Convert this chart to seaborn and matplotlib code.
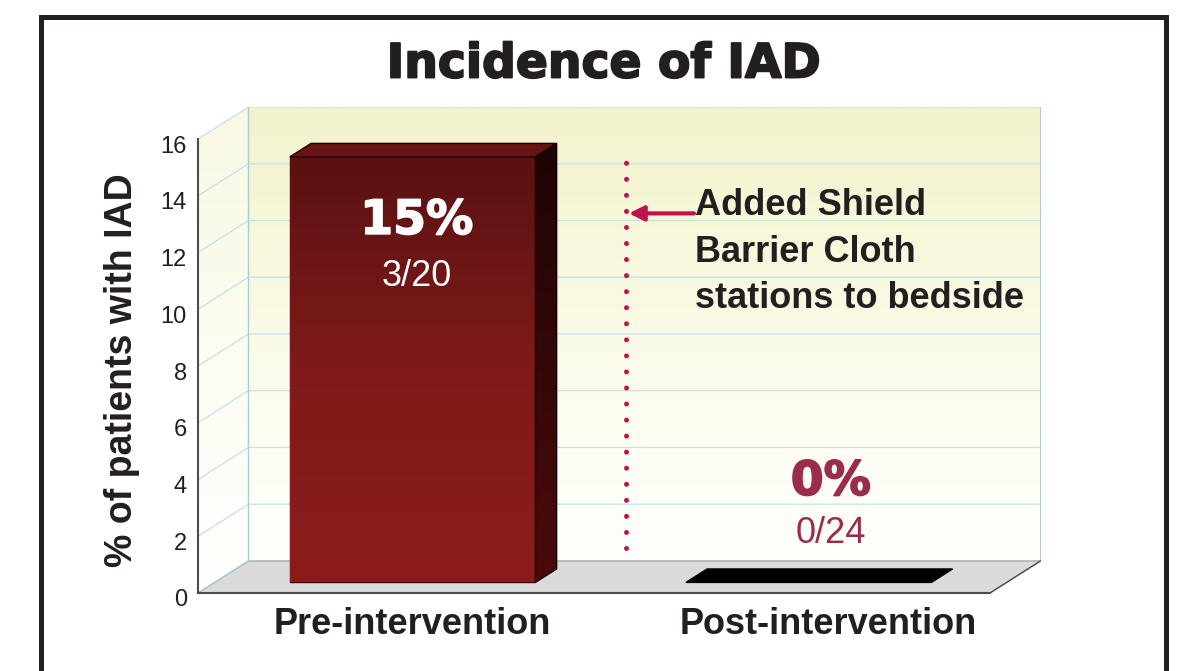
import numpy as np
import matplotlib
matplotlib.use('Agg')
import matplotlib.pyplot as plt
import matplotlib.transforms as mtransforms
import matplotlib.patheffects as pe
from matplotlib.patches import Polygon, Rectangle
from matplotlib.colors import LinearSegmentedColormap
import seaborn as sns

# -------------------------------------------------------
# Data
# -------------------------------------------------------
groups     = ['Pre-intervention', 'Post-intervention']
pct        = [15, 0]
pct_labels = ['15%', '0%']
counts     = ['3/20', '0/24']
yticks     = list(range(0, 17, 2))
note_lines = ['Added Shield', 'Barrier Cloth', 'stations to bedside']
title      = 'Incidence of IAD'
ylabel     = '% of patients with IAD'

sns.set_style('white')
plt.rcParams['font.family'] = ['Liberation Sans', 'DejaVu Sans']

INK   = '#231f20'
BERRY = '#c0124f'
WINE  = '#9b2c4b'

DX, DY = 0.1275, 1.13   # depth of the 3d box, in data units
D0, D1 = 0.33, 0.75     # bars sit between these depth fractions
YMAX   = 16

fig = plt.figure(figsize=(11.81, 6.71), dpi=100)
ax = fig.add_axes([198 / 1181, 78 / 671, 842.5 / 1181, 486 / 671])

# -------------------------------------------------------
# Bars (front faces) via seaborn
# -------------------------------------------------------
sns.barplot(x=groups, y=pct, width=0.62, color='#8a1a1a', saturation=1,
            edgecolor='#2a0505', linewidth=1, ax=ax, zorder=4)
bars = list(ax.patches)

ax.set_xlim(-0.5, 1.5 + DX)
ax.set_ylim(0, YMAX + DY)

grad = np.linspace(0, 1, 256).reshape(-1, 1)

# -------------------------------------------------------
# 3d box: back wall, side wall, floor
# -------------------------------------------------------
wall_cmap = LinearSegmentedColormap.from_list(
    'wall', ['#fffffc', '#fdfdf0', '#f8f8de', '#f3f3cd'])
ax.imshow(grad, cmap=wall_cmap, origin='lower', aspect='auto', zorder=0,
          extent=[-0.5 + DX, 1.5 + DX, DY, YMAX + DY])

side = Polygon([(-0.5, 0), (-0.5, YMAX), (-0.5 + DX, YMAX + DY), (-0.5 + DX, DY)],
               closed=True, fc='none', ec='none', transform=ax.transData)
ax.add_patch(side)
side_img = ax.imshow(grad, cmap=wall_cmap, origin='lower', aspect='auto', zorder=0,
                     extent=[-0.5, -0.5 + DX, 0, YMAX + DY], alpha=0.55)
side_img.set_clip_path(side)

floor = Polygon([(-0.5, 0), (1.5, 0), (1.5 + DX, DY), (-0.5 + DX, DY)],
                closed=True, fc='#dadada', ec='#9a9a9a', lw=0.8, zorder=1)
ax.add_patch(floor)

for v in yticks[1:]:
    ax.plot([-0.5, -0.5 + DX, 1.5 + DX], [v, v + DY, v + DY],
            color='#c2e2ea', lw=0.9, zorder=1)
ax.plot([-0.5 + DX, -0.5 + DX], [DY, YMAX + DY], color='#a9cdd3', lw=1, zorder=1)
ax.plot([1.5 + DX, 1.5 + DX], [DY, YMAX + DY], color='#a9c4cc', lw=1.2, zorder=1)
ax.plot([-0.5, -0.5 + DX], [0, DY], color='#a9cdd3', lw=1, zorder=2)
ax.plot([1.5, 1.5 + DX], [0, DY], color='#4d4d4d', lw=1, zorder=2)

# -------------------------------------------------------
# Bars: push back in depth, add top and side faces
# -------------------------------------------------------
front_cmap = LinearSegmentedColormap.from_list('front', ['#8c1c1c', '#801a1a', '#5a1111'])
side_cmap  = LinearSegmentedColormap.from_list('side', ['#4a0b0b', '#1e0404'])
dd = D1 - D0
centers = []
for p in bars:
    x = p.get_x() + D0 * DX
    w = p.get_width()
    h = p.get_height()
    y0 = D0 * DY
    p.set_x(x)
    p.set_y(y0)
    centers.append(x + w / 2)
    top = Polygon([(x, y0 + h), (x + w, y0 + h),
                   (x + w + dd * DX, y0 + h + dd * DY), (x + dd * DX, y0 + h + dd * DY)],
                  closed=True, zorder=5, lw=1,
                  fc='#661414' if h > 0 else 'black', ec='#1a0202' if h > 0 else 'black')
    ax.add_patch(top)
    if h > 0:
        img = ax.imshow(grad, cmap=front_cmap, origin='lower', aspect='auto', zorder=4.5,
                        extent=[x, x + w, y0, y0 + h])
        img.set_clip_path(p)
        sp = Polygon([(x + w, y0), (x + w, y0 + h),
                      (x + w + dd * DX, y0 + h + dd * DY), (x + w + dd * DX, y0 + dd * DY)],
                     closed=True, fc='none', ec='#120101', lw=1, zorder=5)
        ax.add_patch(sp)
        simg = ax.imshow(grad, cmap=side_cmap, origin='lower', aspect='auto', zorder=4.6,
                         extent=[x + w, x + w + dd * DX, y0, y0 + h + dd * DY])
        simg.set_clip_path(sp)
    else:
        p.set_visible(False)

ax.set_xlim(-0.5, 1.5 + DX)
ax.set_ylim(0, YMAX + DY)

# -------------------------------------------------------
# Value labels
# -------------------------------------------------------
heavy_w = [pe.withStroke(linewidth=1.2, foreground='white')]
heavy_r = [pe.withStroke(linewidth=1.2, foreground=WINE)]
ax.annotate(pct_labels[0], (centers[0], 13.1), xytext=(3, 0), textcoords='offset points',
            ha='center', va='center', fontsize=34, fontweight='bold',
            family='DejaVu Sans', color='white', zorder=6, path_effects=heavy_w)
ax.annotate(counts[0], (centers[0], 11.16), xytext=(3, 0), textcoords='offset points',
            ha='center', va='center', fontsize=26, color='white', zorder=6)
ax.annotate(pct_labels[1], (centers[1], 3.9), xytext=(16, 0), textcoords='offset points',
            ha='center', va='center', fontsize=34, fontweight='bold',
            family='DejaVu Sans', color=WINE, zorder=6, path_effects=heavy_r)
ax.annotate(counts[1], (centers[1], 2.08), xytext=(16, 0), textcoords='offset points',
            ha='center', va='center', fontsize=26, color=WINE, zorder=6)

# -------------------------------------------------------
# Intervention marker + note
# -------------------------------------------------------
ax.plot([0.581, 0.581], [1.58, 15.42], color=BERRY, lw=3.6,
        ls=(0, (0.01, 3.2)), dash_capstyle='round', zorder=6)
ax.annotate('', xy=(0.588, 13.38), xytext=(0.7525, 13.38),
            arrowprops=dict(arrowstyle='-|>', color=BERRY, lw=3, mutation_scale=22,
                            shrinkA=0, shrinkB=0), zorder=6)
for line, yb in zip(note_lines, [13.31, 11.65, 10.04]):
    ax.text(0.756, yb, line, ha='left', va='baseline', fontsize=26,
            fontweight='bold', color=INK, zorder=6)

# -------------------------------------------------------
# Axes styling
# -------------------------------------------------------
for s in ['top', 'right']:
    ax.spines[s].set_visible(False)
ax.spines['left'].set_bounds(0, YMAX)
ax.spines['bottom'].set_bounds(-0.5, 1.5)
for s in ['left', 'bottom']:
    ax.spines[s].set_color('#4d4d4d')
    ax.spines[s].set_linewidth(1.5)
    ax.spines[s].set_zorder(3)

ax.set_yticks(yticks)
ax.set_yticklabels([str(t) for t in yticks])
ax.tick_params(axis='y', length=0, pad=8, labelsize=17, labelcolor=INK)
for lab in ax.get_yticklabels():
    lab.set_transform(lab.get_transform() +
                      mtransforms.ScaledTranslation(0, -5 / 100, fig.dpi_scale_trans))
ax.set_xticks([0, 1])
ax.set_xticklabels(groups)
ax.tick_params(axis='x', length=0, pad=10, labelsize=26, labelcolor=INK)
for lab, off in zip(ax.get_xticklabels(), [16, 36]):
    lab.set_fontweight('bold')
    lab.set_transform(lab.get_transform() +
                      mtransforms.ScaledTranslation(off / 100, 0, fig.dpi_scale_trans))
ax.set_xlabel('')
ax.set_ylabel(ylabel, fontsize=27, fontweight='bold', color=INK)
ax.yaxis.set_label_coords(-58 / 842.5, (593 - 370) / 486)

fig.text(604 / 1181, 1 - 65 / 671, title, ha='center', va='center', fontsize=34,
         fontweight='bold', family='DejaVu Sans', color=INK,
         path_effects=[pe.withStroke(linewidth=1.4, foreground=INK)])

fig.add_artist(Rectangle((41 / 1181, -0.05), (1166 - 41) / 1181, 1.05 - 17 / 671,
                         transform=fig.transFigure, fill=False, lw=3.6, ec=INK))

fig.savefig('out.png', dpi=100)
